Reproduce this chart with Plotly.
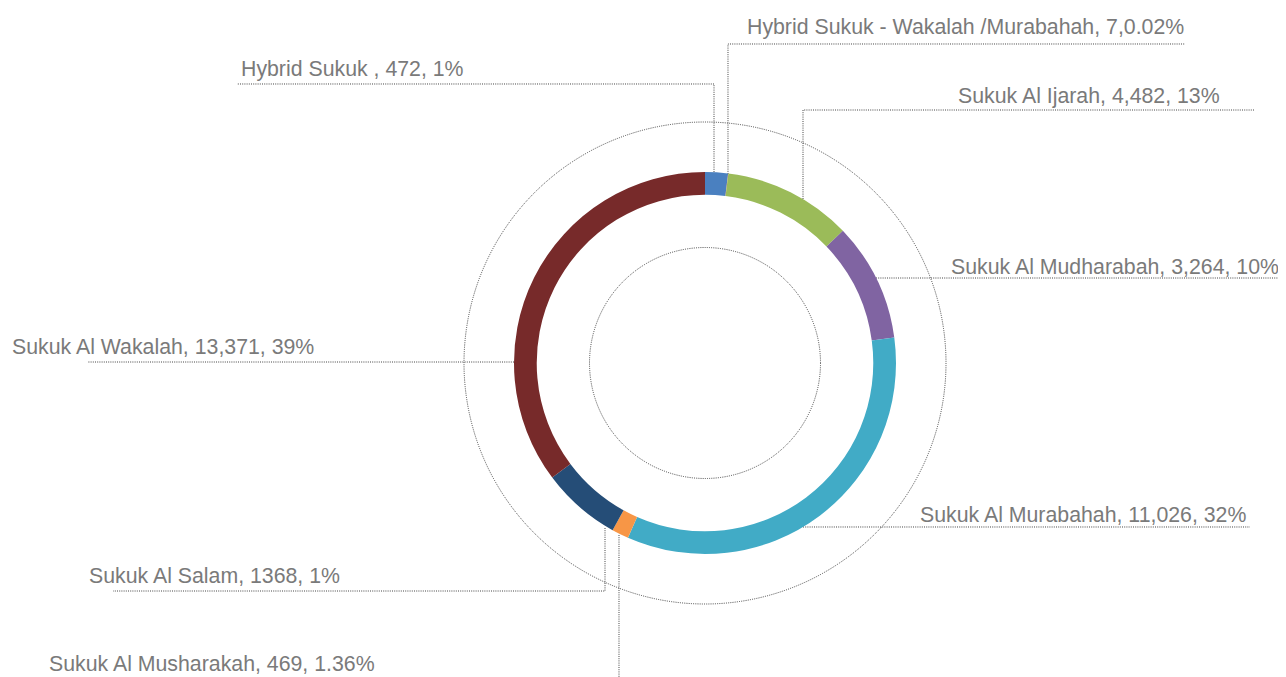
import plotly.graph_objects as go

# ---- data -------------------------------------------------------------
categories = [
    "Hybrid Sukuk",
    "Hybrid Sukuk - Wakalah /Murabahah",
    "Sukuk Al Ijarah",
    "Sukuk Al Mudharabah",
    "Sukuk Al Murabahah",
    "Sukuk Al Musharakah",
    "Sukuk Al Salam",
    "Sukuk Al Wakalah",
]
# values stated in the labels
label_values = ["472", "7", "4,482", "3,264", "11,026", "469", "1368", "13,371"]
label_pcts = ["1%", "0.02%", "13%", "10%", "32%", "1.36%", "1%", "39%"]
# share of the ring each slice occupies as drawn (percent of circle)
drawn_share = [1.93, 0.02, 10.89, 10.03, 33.75, 1.43, 6.72, 35.25]
colors = ["#4a80c0", "#c0504d", "#9bbb59", "#8064a2", "#41abc6",
          "#f79646", "#254d77", "#772a2a"]

label_texts = [
    "Hybrid Sukuk , 472, 1%",
    "Hybrid Sukuk - Wakalah /Murabahah, 7,0.02%",
    "Sukuk Al Ijarah, 4,482, 13%",
    "Sukuk Al Mudharabah, 3,264, 10%",
    "Sukuk Al Murabahah, 11,026, 32%",
    "Sukuk Al Musharakah, 469, 1.36%",
    "Sukuk Al Salam, 1368, 1%",
    "Sukuk Al Wakalah, 13,371, 39%",
]

# ---- layout helpers ---------------------------------------------------
OFF = 8                      # page body margin
W, H = 1286 - OFF, 677 - OFF
CX, CY, R = 705, 363, 191


def px(x):
    return (x - OFF) / W


def py(y):
    return 1 - (y - OFF) / H


fig = go.Figure()
fig.add_trace(go.Pie(
    labels=categories,
    values=drawn_share,
    customdata=[[v, p] for v, p in zip(label_values, label_pcts)],
    hovertemplate="%{label}<br>%{customdata[0]}, %{customdata[1]}<extra></extra>",
    marker=dict(colors=colors, line=dict(width=0)),
    hole=0.881,
    sort=False,
    direction="clockwise",
    rotation=0,
    textinfo="none",
    showlegend=False,
    domain=dict(x=[px(CX - R), px(CX + R)], y=[py(CY + R), py(CY - R)]),
))

line_style = dict(color="#444444", width=1, dash="1px,1.2px")
shapes = []
# dotted guide circles
for r in (241, 115.5):
    shapes.append(dict(type="circle", xref="paper", yref="paper",
                       x0=px(CX - r), x1=px(CX + r), y0=py(CY + r), y1=py(CY - r),
                       line=line_style, layer="below"))

# leader lines (pixel polylines)
leaders = [
    [(714, 172), (714, 84), (237, 84)],
    [(728, 174), (728, 44), (1185, 44)],
    [(803, 199), (803, 110), (1255, 110)],
    [(876, 278), (1286, 278)],
    [(803, 527), (1250, 527)],
    [(619, 535), (619, 677)],
    [(605, 528), (605, 591), (113, 591)],
    [(514, 362), (88, 362)],
]
for pts in leaders:
    path = "M " + " L ".join(f"{px(x):.5f},{py(y):.5f}" for x, y in pts)
    shapes.append(dict(type="path", xref="paper", yref="paper", path=path,
                       line=line_style, layer="below"))

label_pos = [(239, 69), (745, 27), (956, 96), (949, 267),
             (918, 515), (47, 664), (87, 576), (10, 347)]
annotations = []
for txt, (x, y) in zip(label_texts, label_pos):
    annotations.append(dict(text=txt, x=px(x), y=py(y), xref="paper", yref="paper",
                            xanchor="left", yanchor="middle", showarrow=False,
                            font=dict(family="Liberation Sans, Arial, sans-serif",
                                      size=21.3, color="#7a7a7a")))

fig.update_layout(
    width=W, height=H,
    margin=dict(l=0, r=0, t=0, b=0),
    paper_bgcolor="white", plot_bgcolor="white",
    shapes=shapes, annotations=annotations,
)

fig.write_html("out.html")
